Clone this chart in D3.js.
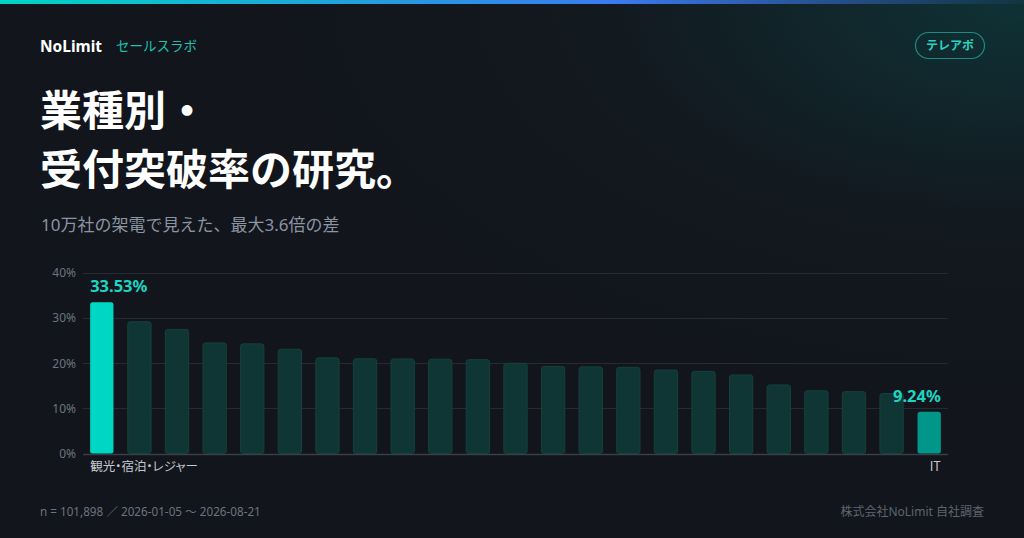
<!DOCTYPE html>
<html lang="ja">
<head>
<meta charset="utf-8">
<script src="https://cdn.jsdelivr.net/npm/d3@7"></script>
<style>
  html, body { margin: 0; padding: 0; background: #12151c; }
  svg { display: block; font-family: "Noto Sans", "Noto Sans CJK JP", sans-serif; }
</style>
</head>
<body>
<svg id="chart" width="1024" height="538"></svg>
<script>
const categories = [
  "観光・宿泊・レジャー", "飲食", "美容・サロン", "医療・クリニック", "介護・福祉",
  "教育・スクール", "不動産", "建設・工務店", "小売", "自動車", "士業", "人材",
  "物流・運送", "製造", "卸売", "広告・印刷", "保険", "金融", "コンサルティング",
  "通信", "ソフトウェア", "Webサービス", "IT"
];
const values = [33.53, 29.2, 27.5, 24.5, 24.3, 23.1, 21.2, 21.0, 20.95, 20.9, 20.8, 20.0,
  19.3, 19.2, 19.1, 18.5, 18.2, 17.4, 15.2, 13.9, 13.7, 13.3, 9.24];
const yTicks = [0, 10, 20, 30, 40];
const shownLabels = ["観光・宿泊・レジャー", "IT"];

const svg = d3.select("#chart");
const W = 1024, H = 538;
const defs = svg.append("defs");

const bg = defs.append("radialGradient").attr("id", "bgGrad")
  .attr("cx", "100%").attr("cy", "0%").attr("r", "75%");
bg.append("stop").attr("offset", "0%").attr("stop-color", "#0f3236");
bg.append("stop").attr("offset", "55%").attr("stop-color", "#12191f");
bg.append("stop").attr("offset", "100%").attr("stop-color", "#12151c");
svg.append("rect").attr("width", W).attr("height", H).attr("fill", "#12151c");
svg.append("rect").attr("width", W).attr("height", H).attr("fill", "url(#bgGrad)");

const topG = defs.append("linearGradient").attr("id", "topGrad");
topG.append("stop").attr("offset", "0%").attr("stop-color", "#00d4c4");
topG.append("stop").attr("offset", "60%").attr("stop-color", "#3b7bf0");
topG.append("stop").attr("offset", "100%").attr("stop-color", "#3b7bf0").attr("stop-opacity", 0.05);
svg.append("rect").attr("x", 0).attr("y", 0).attr("width", W).attr("height", 4).attr("fill", "url(#topGrad)");

// Header
svg.append("text").attr("x", 40).attr("y", 52).attr("fill", "#ffffff")
  .attr("font-size", 15.5).attr("font-weight", 700).text("NoLimit");
svg.append("text").attr("x", 116).attr("y", 51).attr("fill", "#19c2b2")
  .attr("font-size", 13.5).attr("font-family", "Noto Sans CJK JP").text("セールスラボ");

svg.append("rect").attr("x", 915.5).attr("y", 32.5).attr("width", 69).attr("height", 26).attr("rx", 13)
  .attr("fill", "none").attr("stroke", "#1b8c82").attr("stroke-width", 1.2);
svg.append("text").attr("x", 950).attr("y", 50).attr("text-anchor", "middle").attr("fill", "#2ad3c3")
  .attr("font-size", 12).attr("font-weight", 700).attr("font-family", "Noto Sans CJK JP").text("テレアポ");

// Title
svg.append("text").attr("x", 40).attr("y", 126).attr("fill", "#ffffff")
  .attr("font-size", 42).attr("font-weight", 700).attr("font-family", "Noto Sans CJK JP").text("業種別・");
svg.append("text").attr("x", 40).attr("y", 185).attr("fill", "#ffffff")
  .attr("font-size", 42).attr("font-weight", 700).attr("font-family", "Noto Sans CJK JP").text("受付突破率の研究。");

svg.append("text").attr("x", 41).attr("y", 231).attr("fill", "#8b94a1")
  .attr("font-size", 17).text("10万社の架電で見えた、最大3.6倍の差");

// Chart
const x = d3.scaleBand().domain(categories).range([83, 948]).paddingInner(0.38).paddingOuter(0.19);
const y = d3.scaleLinear().domain([0, 40]).range([453.5, 273]);

const grid = svg.append("g");
grid.selectAll("line").data(yTicks).join("line")
  .attr("x1", 83).attr("x2", 948)
  .attr("y1", d => Math.round(y(d)) + 0.5).attr("y2", d => Math.round(y(d)) + 0.5)
  .attr("stroke", d => d === 0 ? "#3a3f47" : "#262b33").attr("stroke-width", d => d === 0 ? 1.5 : 1);

const yAxis = svg.append("g").attr("transform", "translate(76,0)")
  .call(d3.axisLeft(y).tickValues(yTicks).tickFormat(d => d + "%").tickSize(0).tickPadding(0));
yAxis.select(".domain").remove();
yAxis.selectAll("text").attr("fill", "#6b7480").attr("font-size", 12)
  .attr("font-family", "Noto Sans, Noto Sans CJK JP, sans-serif");

const data = categories.map((c, i) => ({ c, v: values[i], i }));
const last = data.length - 1;
const fillFor = d => d.i === 0 ? "#00d6c4" : d.i === last ? "#00968a" : "#0f3634";

svg.append("g").selectAll("rect").data(data).join("rect")
  .attr("x", d => x(d.c)).attr("width", x.bandwidth())
  .attr("y", d => y(d.v)).attr("height", d => y(0) - y(d.v))
  .attr("rx", 2.5)
  .attr("fill", fillFor)
  .attr("stroke", d => (d.i === 0 || d.i === last) ? "none" : "#15413e").attr("stroke-width", 1);

// value labels
svg.append("text").attr("x", x(categories[0])).attr("y", y(values[0]) - 10)
  .attr("fill", "#1fd3c3").attr("font-size", 16.5).attr("font-weight", 700)
  .text(values[0].toFixed(2) + "%");
svg.append("text").attr("x", x(categories[last]) + x.bandwidth()).attr("y", y(values[last]) - 10)
  .attr("text-anchor", "end").attr("fill", "#1fd3c3").attr("font-size", 16.5).attr("font-weight", 700)
  .text(values[last].toFixed(2) + "%");

// category labels (first & last only)
const xAxis = svg.append("g").attr("transform", "translate(0,462)")
  .call(d3.axisBottom(x).tickValues(shownLabels).tickSize(0).tickPadding(0));
xAxis.select(".domain").remove();
xAxis.selectAll("text")
  .attr("fill", "#c3c8cf").attr("font-size", 12.5).attr("dy", "0.71em")
  .attr("font-family", "Noto Sans CJK JP, sans-serif")
  .style("font-feature-settings", "'palt'")
  .attr("text-anchor", d => d === categories[0] ? "start" : "end")
  .attr("x", d => d === categories[0] ? -x.bandwidth() / 2 : x.bandwidth() / 2);

// Footer
svg.append("text").attr("x", 40).attr("y", 516).attr("fill", "#6b7480").attr("font-size", 11.7)
  .text("n = 101,898 ／ 2026-01-05 〜 2026-08-21");
svg.append("text").attr("x", 984).attr("y", 516).attr("text-anchor", "end").attr("fill", "#5d6570").attr("font-size", 12)
  .text("株式会社NoLimit 自社調査");
</script>
</body>
</html>
